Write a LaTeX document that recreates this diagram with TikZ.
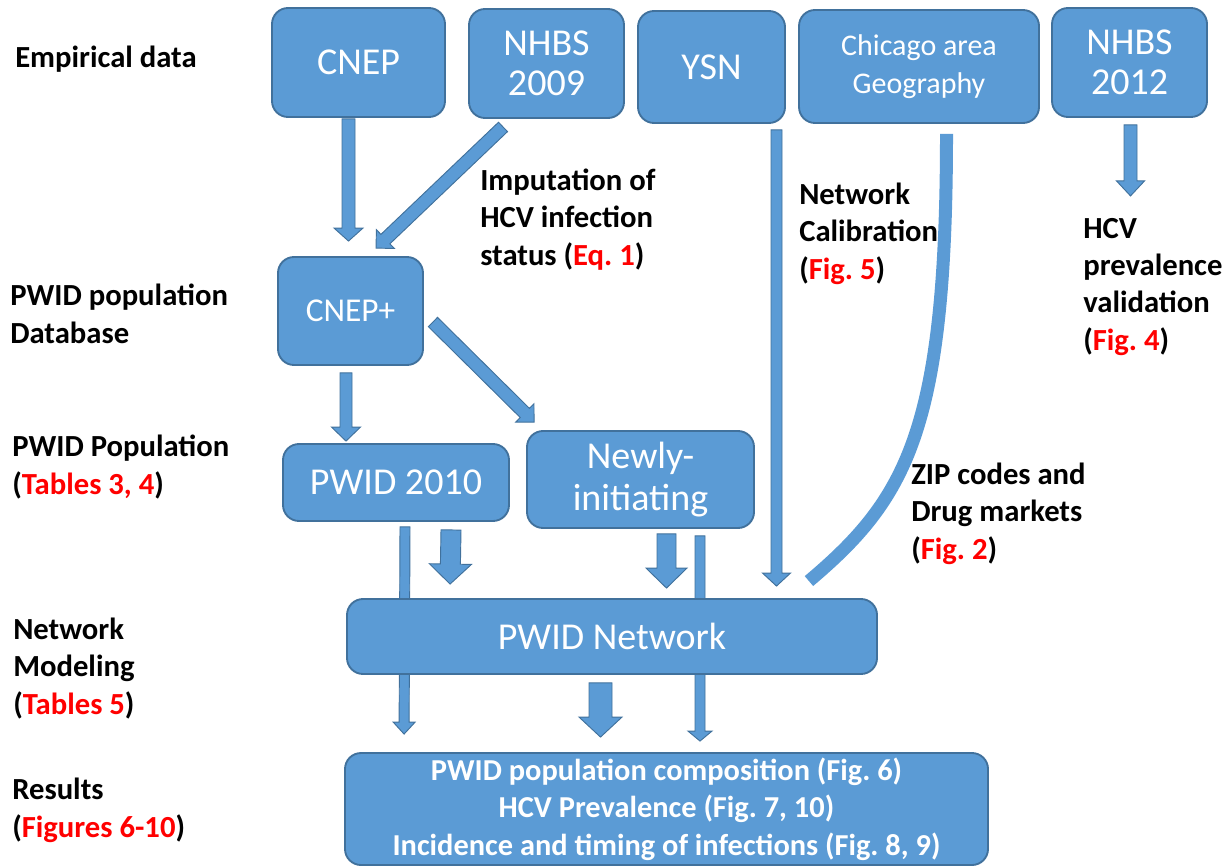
\documentclass[tikz,border=0pt]{standalone}
\usepackage{fontspec}
\setmainfont{Carlito}
\usetikzlibrary{calc}
\frenchspacing
\definecolor{boxblue}{HTML}{5B9BD5}
\definecolor{boxline}{HTML}{41719C}
\definecolor{refred}{HTML}{FF0000}
\newcommand\rf[1]{\textcolor{refred}{#1}}
\newcommand\labfont{\fontsize{23}{28}\selectfont\bfseries}
\newcommand\titlefont{\fontsize{28.5}{30}\selectfont}
\tikzset{
  databox/.style={draw=boxline, fill=boxblue, line width=1.4pt, rounded corners=12pt,
    inner sep=0pt, text=white, align=center, font=\titlefont},
  sz/.style 2 args={minimum width=#1*0.75pt, minimum height=#2*0.75pt},
  lab/.style={anchor=base west, align=left, inner sep=0pt, font=\labfont},
  arrowstyle/.style={draw=boxline, fill=boxblue, line width=0.7pt, line join=miter},
  band/.style={draw=boxblue, line width=9.75pt, line cap=butt}
}
\newcommand\blockarrow[5]{%
  \pgfmathsetlengthmacro\bahalf{#3*0.75pt}%
  \pgfmathsetlengthmacro\bahead{#4*0.75pt}%
  \pgfmathsetlengthmacro\balen{#5*0.75pt}%
  \coordinate (bas) at (#1);
  \coordinate (bat) at (#2);
  \coordinate (bah) at ($(bat)!\balen!(bas)$);
  \filldraw[arrowstyle] ($(bas)!\bahalf!90:(bat)$) -- ($(bah)!\bahalf!90:(bat)$)
    -- ($(bah)!\bahead!90:(bat)$) -- (bat) -- ($(bah)!\bahead!-90:(bat)$)
    -- ($(bah)!\bahalf!-90:(bat)$) -- ($(bas)!\bahalf!-90:(bat)$) -- cycle;
}
\begin{document}
\begin{tikzpicture}[x=0.75pt,y=-0.75pt]
\useasboundingbox (0,0) rectangle (1226,867);

% row labels (anchored on the baseline of the last line)
\node[lab] (lempirical) at (15,68) {Empirical data};
\node[lab] (ldatabase) at (10,343) {PWID population\\Database};
\node[lab] (lpopulation) at (12,494) {PWID Population\\(\rf{Tables 3, 4})};
\node[lab] (lmodeling) at (13,714) {Network\\Modeling\\(\rf{Tables 5})};
\node[lab] (lresults) at (12,837) {Results\\(\rf{Figures 6-10})};

% annotation labels
\node[lab] (limput) at (480,265) {Imputation of\\HCV infection\\status (\rf{Eq. 1})};
\node[lab] (lcalib) at (799,279) {Network\\Calibration\\(\rf{Fig. 5})};
\node[lab] (lvalid) at (1083,350) {HCV\\prevalence\\validation\\(\rf{Fig. 4})};
\node[lab] (lzip) at (911,559) {ZIP codes and\\Drug markets\\(\rf{Fig. 2})};

% boxes
\node[databox, sz={173}{109}] (cnep) at (358.5,62.5) {CNEP};
\node[databox, sz={155}{109}] (nhbsnine) at (546.5,63.5) {NHBS\\2009};
\node[databox, sz={147}{112}] (ysn) at (711.5,67) {YSN};
\node[databox, sz={240}{113}, font=\fontsize{22.5}{28}\selectfont] (chicago) at (919,66.5) {Chicago area\\Geography};
\node[databox, sz={155}{109}] (nhbstwelve) at (1129.5,62.5) {NHBS\\2012};
\node[databox, sz={145}{108}, font=\fontsize{25}{30}\selectfont] (cnepplus) at (350.5,311) {CNEP+};
\node[databox, sz={226}{77}] (pwid) at (396,482.5) {PWID 2010};
\node[databox, sz={227}{97}, font=\fontsize{28.5}{32}\selectfont] (newly) at (640.5,479.5) {Newly-\\initiating};
\node[databox, sz={643}{112}, font=\fontsize{22.8}{28}\selectfont\bfseries] (results) at (666.5,809)
  {PWID population composition (Fig. 6)\\HCV Prevalence (Fig. 7, 10)\\Incidence and timing of infections (Fig. 8, 9)};

% thin arrows passing behind the network box
\coordinate (p1s) at ($(pwid.south)+(9,5)$);
\coordinate (p1t) at ($(results.north west)+(60,-18)$);
\blockarrow{p1s}{p1t}{5}{11}{12}
\coordinate (n1s) at ($(newly.south)+(59.5,7)$);
\coordinate (n1t) at ($(results.north)+(33.5,-11)$);
\blockarrow{n1s}{n1t}{5}{12}{10}

\node[databox, sz={530}{75}] (network) at (612,636.5) {PWID Network};

% arrows
\coordinate (a1s) at ($(cnep.south)+(-10,1)$);
\coordinate (a1t) at ($(cnepplus.north)+(-2,-15)$);
\blockarrow{a1s}{a1t}{6.5}{14.5}{13}
\coordinate (a2s) at ($(nhbsnine.south)+(-43.5,8)$);
\coordinate (a2t) at ($(cnepplus.north)+(25.5,-8)$);
\blockarrow{a2s}{a2t}{6.5}{13}{13}
\coordinate (a3s) at ($(cnepplus.south)+(-4.5,7)$);
\coordinate (a3t) at ($(pwid.north)+(-50,-2)$);
\blockarrow{a3s}{a3t}{6}{14.5}{14}
\coordinate (a4s) at ($(cnepplus.east)+(9,11)$);
\coordinate (a4t) at ($(newly.north west)+(8,-8)$);
\blockarrow{a4s}{a4t}{6.5}{13}{13}
\coordinate (a5s) at ($(ysn.south)+(65,6)$);
\coordinate (a5t) at ($(network.north)+(164.5,-12)$);
\blockarrow{a5s}{a5t}{5.5}{14}{13}
\coordinate (a7s) at ($(nhbstwelve.south)+(1,7)$);
\coordinate (a7t) at ($(nhbstwelve.south)+(1,78)$);
\blockarrow{a7s}{a7t}{6.5}{14}{15}
\coordinate (a9s) at ($(pwid.south)+(55,8)$);
\coordinate (a9t) at ($(network.north west)+(104,-14)$);
\blockarrow{a9s}{a9t}{10}{21}{20}
\coordinate (a10s) at ($(newly.south)+(26,5)$);
\coordinate (a10t) at ($(network.north)+(54.5,-10)$);
\blockarrow{a10s}{a10t}{9.5}{20.5}{20}
\coordinate (a12s) at ($(network.south)+(-11.5,8)$);
\coordinate (a12t) at ($(results.north)+(-66,-15)$);
\blockarrow{a12s}{a12t}{11.5}{21.5}{20}

% curved band from geography
\coordinate (c1s) at ($(chicago.south)+(27.5,10)$);
\coordinate (c1e) at ($(network.north east)+(-69,-17)$);
\draw[band] (c1s) .. controls ($(c1s)+(0,297)$) and ($(c1e)+(97,-82)$) .. (c1e);
\end{tikzpicture}
\end{document}
